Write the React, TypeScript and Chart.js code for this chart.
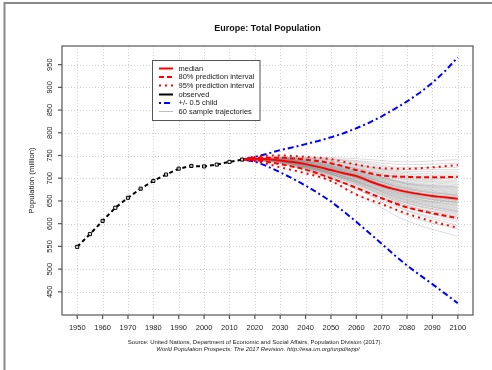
import React, { useEffect, useRef } from "react";
import { Chart, registerables } from "chart.js";

Chart.register(...registerables);

// Observed population, Europe (million)
const OBS_YEARS = [1950, 1955, 1960, 1965, 1970, 1975, 1980, 1985, 1990, 1995, 2000, 2005, 2010, 2015];
const OBS_POP = [549, 577, 606, 635, 657, 677, 694, 708, 721, 727, 726, 730, 736, 741];

// Projection: median and +/- 0.5 child variants, 5-year steps
const PROJ_YEARS = [2015, 2020, 2025, 2030, 2035, 2040, 2045, 2050, 2055, 2060, 2065, 2070, 2075, 2080, 2085, 2090, 2095, 2100];
const MEDIAN = [741, 743, 742, 739, 735.5, 731, 725, 718, 711, 705, 694, 684, 676, 670, 665, 661, 658, 655];
const HIGH_HALF_CHILD = [741, 747, 754, 762, 768, 775, 782, 790, 799, 810, 822, 836, 852, 869, 888, 910, 936, 966];
const LOW_HALF_CHILD = [741, 737, 726, 713, 699, 684, 667, 649, 627, 604, 580, 556, 531, 508, 487, 467, 446, 425];

// Prediction intervals, 10-year steps
const PI_YEARS = [2015, 2020, 2030, 2040, 2050, 2060, 2070, 2080, 2090, 2100];
const PI80_UPPER = [741, 745, 745, 741, 733, 718, 706, 703, 702, 703];
const PI80_LOWER = [741, 740, 731, 719, 700, 679, 656, 636, 623, 612];
const PI95_UPPER = [741, 747, 750, 747, 742, 730, 722, 721, 724, 729];
const PI95_LOWER = [741, 738, 724, 711, 694, 664, 643, 622, 605, 591];

// Sample trajectories: all start from the 2015 value
const SAMPLE_YEARS = [2015, 2030, 2045, 2060, 2080, 2100];
const SAMPLE_START = 741;
const SAMPLE_PATHS = [
  [733, 706, 666, 606, 572], [733, 709, 677, 618, 588], [735, 711, 676, 628, 596],
  [734, 713, 684, 630, 603], [736, 712, 681, 636, 607], [735, 715, 687, 635, 610],
  [737, 714, 686, 641, 614], [736, 717, 690, 640, 617], [737, 718, 688, 644, 619],
  [735, 716, 692, 646, 622], [738, 719, 690, 645, 624], [736, 717, 693, 650, 626],
  [738, 720, 694, 648, 627], [737, 716, 691, 651, 628], [738, 720, 695, 652, 630],
  [736, 718, 696, 654, 632], [738, 721, 694, 655, 634], [737, 719, 698, 657, 636],
  [739, 722, 696, 658, 638], [737, 720, 699, 660, 640], [739, 723, 700, 659, 641],
  [738, 721, 701, 663, 643], [740, 724, 700, 662, 645], [737, 722, 703, 665, 646],
  [739, 725, 702, 663, 647], [738, 723, 704, 666, 648], [740, 726, 702, 667, 650],
  [738, 723, 705, 668, 651], [740, 725, 703, 667, 652], [739, 724, 706, 670, 654],
  [740, 726, 704, 672, 656], [738, 725, 708, 673, 658], [741, 727, 706, 672, 659],
  [740, 725, 709, 676, 661], [739, 728, 707, 677, 662], [741, 726, 710, 675, 663],
  [740, 729, 708, 678, 664], [739, 727, 712, 679, 666], [741, 730, 710, 681, 668],
  [740, 728, 713, 682, 670], [742, 731, 712, 684, 672], [740, 729, 715, 686, 674],
  [742, 732, 713, 687, 676], [741, 730, 717, 688, 678], [742, 733, 715, 690, 680],
  [741, 731, 718, 689, 681], [743, 734, 717, 692, 683], [742, 732, 720, 695, 686],
  [743, 735, 721, 697, 689], [741, 733, 723, 699, 692], [743, 736, 722, 701, 695],
  [742, 735, 725, 704, 698], [744, 737, 727, 706, 701], [743, 739, 729, 709, 705],
  [744, 740, 730, 712, 709], [745, 741, 731, 715, 714], [744, 742, 735, 719, 719],
  [746, 743, 737, 723, 724], [745, 744, 739, 730, 733], [747, 746, 743, 736, 741],
];

const X_TICKS = [1950, 1960, 1970, 1980, 1990, 2000, 2010, 2020, 2030, 2040, 2050, 2060, 2070, 2080, 2090, 2100];
const Y_TICKS = [450, 500, 550, 600, 650, 700, 750, 800, 850, 900, 950];

const TITLE = "Europe: Total Population";
const Y_TITLE = "Population (million)";
const SOURCE_LINE = "Source: United Nations, Department of Economic and Social Affairs, Population Division (2017).";
const SOURCE_LINE_2 = "World Population Prospects: The 2017 Revision. http://esa.un.org/unpd/wpp/";

const LEGEND_ITEMS = [
  { label: "median", color: "#ff0000", dash: [] as number[], width: 2 },
  { label: "80% prediction interval", color: "#ff0000", dash: [5, 3], width: 2 },
  { label: "95% prediction interval", color: "#ff0000", dash: [2, 4], width: 2 },
  { label: "observed", color: "#000000", dash: [] as number[], width: 2 },
  { label: "+/- 0.5 child", color: "#0000ff", dash: [2, 3, 6, 3], width: 2 },
  { label: "60 sample trajectories", color: "#bdbdbd", dash: [] as number[], width: 1 },
];

const FONT = "'Liberation Sans', Arial, Helvetica, sans-serif";

const pts = (xs: number[], ys: number[]) => xs.map((x, i) => ({ x, y: ys[i] }));

const decorations = {
  id: "rDecorations",
  beforeDraw(chart: any) {
    const ctx = chart.ctx;
    ctx.save();
    ctx.fillStyle = "#ffffff";
    ctx.fillRect(0, 0, chart.width, chart.height);
    // outer frame
    ctx.strokeStyle = "#8a8a8a";
    ctx.lineWidth = 2;
    ctx.beginPath();
    ctx.moveTo(4.5, chart.height);
    ctx.lineTo(4.5, 3);
    ctx.lineTo(chart.width, 3);
    ctx.stroke();
    ctx.restore();
  },
  beforeDatasetsDraw(chart: any) {
    const { ctx, chartArea: a, scales } = chart;
    ctx.save();
    ctx.strokeStyle = "#cfcfcf";
    ctx.lineWidth = 1;
    ctx.setLineDash([1, 2]);
    X_TICKS.forEach((t) => {
      const px = Math.round(scales.x.getPixelForValue(t)) + 0.5;
      ctx.beginPath();
      ctx.moveTo(px, a.top);
      ctx.lineTo(px, a.bottom);
      ctx.stroke();
    });
    Y_TICKS.forEach((t) => {
      const py = Math.round(scales.y.getPixelForValue(t)) + 0.5;
      ctx.beginPath();
      ctx.moveTo(a.left, py);
      ctx.lineTo(a.right, py);
      ctx.stroke();
    });
    ctx.restore();
  },
  afterDraw(chart: any) {
    const { ctx, chartArea: a, scales } = chart;
    ctx.save();
    // plot box
    ctx.strokeStyle = "#555555";
    ctx.lineWidth = 1.2;
    ctx.strokeRect(a.left, a.top, a.right - a.left, a.bottom - a.top);

    // axis ticks and labels
    ctx.fillStyle = "#222222";
    ctx.font = `7.5px ${FONT}`;
    ctx.textAlign = "center";
    ctx.textBaseline = "middle";
    X_TICKS.forEach((t) => {
      const px = scales.x.getPixelForValue(t);
      ctx.beginPath();
      ctx.moveTo(px, a.bottom);
      ctx.lineTo(px, a.bottom + 4);
      ctx.stroke();
      ctx.fillText(String(t), px, 328);
    });
    Y_TICKS.forEach((t) => {
      const py = scales.y.getPixelForValue(t);
      ctx.beginPath();
      ctx.moveTo(a.left, py);
      ctx.lineTo(a.left - 4, py);
      ctx.stroke();
      ctx.save();
      ctx.translate(49.5, py);
      ctx.rotate(-Math.PI / 2);
      ctx.fillText(String(t), 0, 0);
      ctx.restore();
    });

    // axis title
    ctx.save();
    ctx.font = `7.8px ${FONT}`;
    ctx.translate(32, (a.top + a.bottom) / 2);
    ctx.rotate(-Math.PI / 2);
    ctx.fillText(Y_TITLE, 0, 0);
    ctx.restore();

    // title
    ctx.font = `bold 9px ${FONT}`;
    ctx.fillStyle = "#111111";
    ctx.fillText(TITLE, (a.left + a.right) / 2, 29);

    // source note
    ctx.fillStyle = "#222222";
    ctx.font = `6px ${FONT}`;
    ctx.fillText(SOURCE_LINE, 255, 342.5);
    ctx.font = `italic 6px ${FONT}`;
    ctx.fillText(SOURCE_LINE_2, 258, 349.5);

    // legend
    const lx = 152.5, ly = 60.5, lw = 107.5, lh = 60;
    ctx.fillStyle = "#ffffff";
    ctx.fillRect(lx, ly, lw, lh);
    ctx.strokeStyle = "#555555";
    ctx.lineWidth = 1;
    ctx.setLineDash([]);
    ctx.strokeRect(lx, ly, lw, lh);
    const rows = [68.5, 77, 85.5, 94.5, 103, 111.5];
    ctx.font = `7.5px ${FONT}`;
    ctx.textAlign = "left";
    LEGEND_ITEMS.forEach((it, i) => {
      const y = rows[i];
      ctx.strokeStyle = it.color;
      ctx.lineWidth = it.width;
      ctx.setLineDash(it.dash);
      ctx.beginPath();
      ctx.moveTo(159, y);
      ctx.lineTo(173, y);
      ctx.stroke();
      ctx.setLineDash([]);
      ctx.fillStyle = "#222222";
      ctx.fillText(it.label, 178.5, y);
    });
    ctx.restore();
  },
};

export default function App() {
  const canvasRef = useRef<HTMLCanvasElement | null>(null);

  useEffect(() => {
    if (!canvasRef.current) return;

    const sampleSets = SAMPLE_PATHS.map((row) => ({
      label: "sample",
      data: pts(SAMPLE_YEARS, [SAMPLE_START, ...row]),
      borderColor: "rgba(140,140,140,0.3)",
      borderWidth: 1,
      pointRadius: 0,
      cubicInterpolationMode: "monotone" as const,
      order: 10,
    }));

    const chart = new Chart(canvasRef.current, {
      type: "line",
      data: {
        datasets: [
          ...sampleSets,
          {
            label: "+0.5 child",
            data: pts(PROJ_YEARS, HIGH_HALF_CHILD),
            borderColor: "#0000ff",
            borderWidth: 2,
            borderDash: [2, 3, 6, 3],
            pointRadius: 0,
            order: 4,
          },
          {
            label: "-0.5 child",
            data: pts(PROJ_YEARS, LOW_HALF_CHILD),
            borderColor: "#0000ff",
            borderWidth: 2,
            borderDash: [2, 3, 6, 3],
            pointRadius: 0,
            order: 4,
          },
          {
            label: "95% upper",
            data: pts(PI_YEARS, PI95_UPPER),
            borderColor: "#ff0000",
            borderWidth: 2,
            borderDash: [2, 4],
            pointRadius: 0,
            cubicInterpolationMode: "monotone",
            order: 3,
          },
          {
            label: "95% lower",
            data: pts(PI_YEARS, PI95_LOWER),
            borderColor: "#ff0000",
            borderWidth: 2,
            borderDash: [2, 4],
            pointRadius: 0,
            cubicInterpolationMode: "monotone",
            order: 3,
          },
          {
            label: "80% upper",
            data: pts(PI_YEARS, PI80_UPPER),
            borderColor: "#ff0000",
            borderWidth: 2,
            borderDash: [5, 3],
            pointRadius: 0,
            cubicInterpolationMode: "monotone",
            order: 2,
          },
          {
            label: "80% lower",
            data: pts(PI_YEARS, PI80_LOWER),
            borderColor: "#ff0000",
            borderWidth: 2,
            borderDash: [5, 3],
            pointRadius: 0,
            cubicInterpolationMode: "monotone",
            order: 2,
          },
          {
            label: "median",
            data: pts(PROJ_YEARS, MEDIAN),
            borderColor: "#ff0000",
            borderWidth: 2,
            pointRadius: 0,
            cubicInterpolationMode: "monotone",
            order: 1,
          },
          {
            label: "observed",
            data: pts(OBS_YEARS, OBS_POP),
            borderColor: "#000000",
            borderWidth: 2,
            borderDash: [4, 3],
            pointStyle: "rect",
            pointRadius: 2.2,
            pointBorderWidth: 1,
            pointBorderColor: "#000000",
            pointBackgroundColor: "rgba(255,255,255,0.7)",
            order: 0,
          },
        ],
      },
      options: {
        animation: false,
        responsive: false,
        devicePixelRatio: 1,
        layout: { padding: { left: 62, top: 46, right: 19, bottom: 55 } },
        plugins: { legend: { display: false }, tooltip: { enabled: false }, title: { display: false } },
        scales: {
          x: { type: "linear", min: 1944, max: 2106, display: false },
          y: { type: "linear", min: 399, max: 991, display: false },
        },
      },
      plugins: [decorations],
    });

    return () => chart.destroy();
  }, []);

  return (
    <div style={{ position: "absolute", left: 0, top: 0, width: 492, height: 370 }}>
      <canvas ref={canvasRef} width={492} height={370} style={{ display: "block", width: 492, height: 370 }} />
    </div>
  );
}
